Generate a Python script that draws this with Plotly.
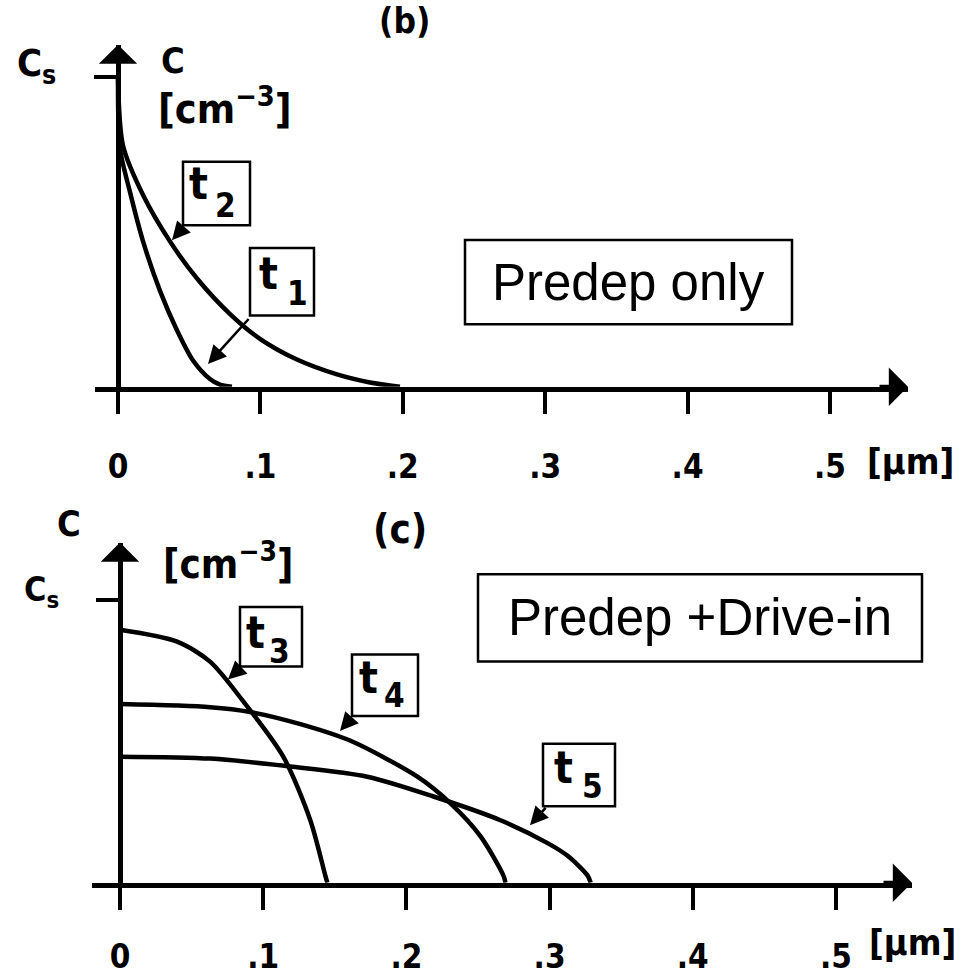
import plotly.graph_objects as go

W, H = 972, 976

# ---------------- data (C / Cs versus depth in µm) ----------------
# panel (b): predeposition only
t1_x = [0.0, 0.0014, 0.0084, 0.0176, 0.0295, 0.0414, 0.0527, 0.0646, 0.0716, 0.08]
t1_y = [1.0, 0.77, 0.63, 0.47, 0.31, 0.183, 0.085, 0.025, 0.007, 0.0]
t2_x = [0.0, 0.0035, 0.0176, 0.0365, 0.0555, 0.0787, 0.0997, 0.1257, 0.1538, 0.177, 0.198]
t2_y = [1.0, 0.78, 0.62, 0.47, 0.35, 0.235, 0.155, 0.088, 0.04, 0.014, 0.0]

# panel (c): predeposition + drive-in
t3_x = [0.0, 0.0399, 0.0629, 0.086, 0.114, 0.1329, 0.1434, 0.1448]
t3_y = [0.895, 0.853, 0.782, 0.642, 0.446, 0.221, 0.025, 0.0]
t4_x = [0.0, 0.063, 0.091, 0.126, 0.161, 0.2077, 0.2308, 0.2517, 0.2678, 0.2692]
t4_y = [0.632, 0.621, 0.604, 0.561, 0.502, 0.375, 0.281, 0.165, 0.025, 0.0]
t5_x = [0.0, 0.063, 0.1189, 0.1727, 0.2189, 0.2657, 0.2986, 0.3126, 0.3266, 0.3287]
t5_y = [0.446, 0.439, 0.411, 0.375, 0.305, 0.221, 0.140, 0.095, 0.025, 0.0]

tick_vals = [0, 0.1, 0.2, 0.3, 0.4, 0.5]
tick_text = ["0", ".1", ".2", ".3", ".4", ".5"]

# ---------------- layout geometry ----------------
top_xrange = [-0.01615, 0.5548]
top_xdom = [95 / W, 908 / W]
top_yrange = [0, 1.106]
top_ydom = [1 - 390 / H, 1 - 45 / H]

bot_xrange = [-0.01955, 0.5531]
bot_xdom = [92 / W, 912 / W]
bot_yrange = [0, 1.2035]
bot_ydom = [1 - 890 / H, 1 - 547 / H]


def zero_pos(rng, dom):
    return dom[0] + (0 - rng[0]) / (rng[1] - rng[0]) * (dom[1] - dom[0])


BIT = "DejaVu Sans Condensed, Liberation Sans Narrow, DejaVu Sans"
bitfont = dict(family=BIT, size=33, color="black", weight="bold")
arial = dict(family="Liberation Sans, Arial", size=51, color="black")

fig = go.Figure()
line = dict(color="black", width=4.5, shape="spline", smoothing=0.8)
for xs, ys in [(t1_x, t1_y), (t2_x, t2_y)]:
    fig.add_trace(go.Scatter(x=xs, y=ys, mode="lines", line=line,
                             xaxis="x", yaxis="y", showlegend=False, hoverinfo="skip"))
for xs, ys in [(t3_x, t3_y), (t4_x, t4_y), (t5_x, t5_y)]:
    fig.add_trace(go.Scatter(x=xs, y=ys, mode="lines", line=line,
                             xaxis="x2", yaxis="y2", showlegend=False, hoverinfo="skip"))

xcommon = dict(showgrid=False, zeroline=False, showline=True, linewidth=5, linecolor="black",
               ticks="outside", ticklen=22, tickwidth=3.5, tickcolor="black",
               tickvals=tick_vals, ticktext=tick_text, tickfont=bitfont,
               fixedrange=True)
ycommon = dict(showgrid=False, zeroline=False, showline=True, linewidth=5, linecolor="black",
               ticks="outside", ticklen=22, tickwidth=3.5, tickcolor="black",
               tickvals=[1], showticklabels=False, anchor="free", fixedrange=True)

fig.update_layout(
    width=W, height=H, margin=dict(l=0, r=0, t=0, b=0),
    paper_bgcolor="white", plot_bgcolor="white",
    xaxis=dict(range=top_xrange, domain=top_xdom, anchor="y", ticklabelstandoff=25, **xcommon),
    yaxis=dict(range=top_yrange, domain=top_ydom,
               position=zero_pos(top_xrange, top_xdom), **ycommon),
    xaxis2=dict(range=bot_xrange, domain=bot_xdom, anchor="y2", ticklabelstandoff=19, **xcommon),
    yaxis2=dict(range=bot_yrange, domain=bot_ydom,
                position=zero_pos(bot_xrange, bot_xdom), **ycommon),
)


def P(px, py):
    return px / W, 1 - py / H


ann = []
shapes = []


def text(s, px, py, font=bitfont, **kw):
    x, y = P(px, py)
    d = dict(text=s, x=x, y=y, xref="paper", yref="paper", showarrow=False,
             font=font, xanchor="center", yanchor="middle")
    d.update(kw)
    ann.append(d)


def frame(px0, py0, px1, py1, w=2.5):
    x0, y0 = P(px0, py0)
    x1, y1 = P(px1, py1)
    shapes.append(dict(type="rect", xref="paper", yref="paper", x0=x0, y0=y1, x1=x1, y1=y0,
                       line=dict(color="black", width=w), fillcolor="rgba(0,0,0,0)"))


def tlabel(digit, box, tpos, dpos):
    frame(*box)
    text("t", tpos[0], tpos[1], font=dict(bitfont, size=44))
    text(digit, dpos[0], dpos[1], font=dict(bitfont, size=33))


def pointer(xr, yr, tip, tail):
    ann.append(dict(text="", x=tip[0], y=tip[1], ax=tail[0], ay=tail[1],
                    xref=xr, yref=yr, axref=xr, ayref=yr, showarrow=True,
                    arrowhead=2, arrowsize=1.4, arrowwidth=2.6, arrowcolor="black"))


def axis_arrow(xr, yr, x, y, ax, ay):
    ann.append(dict(text="", x=x, y=y, ax=ax, ay=ay, xref=xr, yref=yr,
                    showarrow=True, arrowhead=1, arrowsize=1.6, arrowwidth=4,
                    arrowcolor="black"))


# axis arrows
axis_arrow("x", "y", 0, top_yrange[1], 0, 30)
axis_arrow("x", "y", top_xrange[1], 0, -30, 0)
axis_arrow("x2", "y2", 0, bot_yrange[1], 0, 30)
axis_arrow("x2", "y2", bot_xrange[1], 0, -30, 0)

# panel labels and axis titles
text("(b)", 404, 0, font=dict(bitfont, size=35), yanchor="top", borderpad=0)
text("C", 173, 61, font=dict(bitfont, size=36))
text("[cm<sup>−3</sup>]", 225, 107, font=dict(bitfont, size=41))
text("C<sub>s</sub>", 15, 66, xanchor="left", font=dict(bitfont, size=38))
text("[µm]", 910, 465, font=dict(bitfont, size=36))

text("(c)", 400, 533, font=dict(bitfont, size=40))
text("C", 69, 528, font=dict(bitfont, size=36))
text("[cm<sup>−3</sup>]", 228, 566, font=dict(bitfont, size=40))
text("C<sub>s</sub>", 22, 596, xanchor="left", font=dict(bitfont, size=34))
text("[µm]", 912, 950, font=dict(bitfont, size=36))

# boxed time labels
tlabel("2", (183, 163, 250, 227), (198, 185), (225, 207))
tlabel("1", (250, 250, 314, 318), (268, 276), (297, 296))
tlabel("3", (240, 612, 302, 672), (255, 638), (279, 657))
tlabel("4", (352, 660, 418, 722), (368, 683), (394, 701))
tlabel("5", (543, 750, 615, 813), (563, 774), (592, 793))

# boxed process labels
frame(465, 242, 792, 327)
text("Predep only", 628.5, 285, font=arial)
frame(478, 579, 922, 667)
text("Predep +Drive-in", 700, 623, font=arial)

# pointer arrows from boxes to curves
pointer("x", "y", (0.0379, 0.474), (0.0470, 0.522))
pointer("x", "y", (0.0632, 0.074), (0.0927, 0.224))
pointer("x2", "y2", (0.0754, 0.719), (0.0852, 0.765))
pointer("x2", "y2", (0.1536, 0.537), (0.1627, 0.589))
pointer("x2", "y2", (0.2863, 0.2035), (0.2982, 0.270))

fig.update_layout(annotations=ann, shapes=shapes)
fig.write_html("out.html", config={"displayModeBar": False},
               post_script="document.body.style.margin='0px';")
